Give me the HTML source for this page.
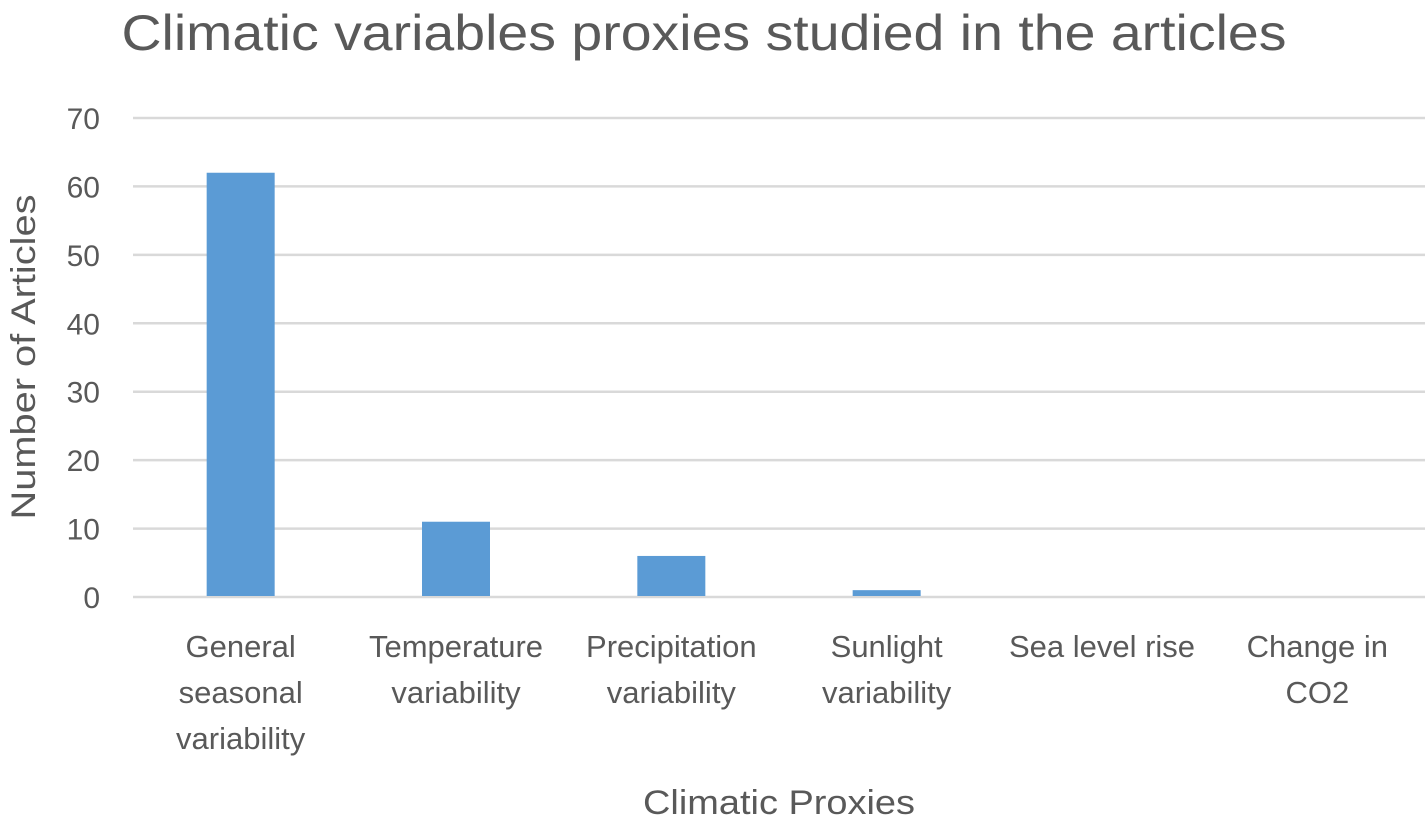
<!DOCTYPE html>
<html><head><meta charset="utf-8"><style>
body{margin:0;background:#fff;}
svg text{font-family:"Liberation Sans",sans-serif;fill:#595959;}
</style></head><body>
<svg width="1425" height="819">
<text x="704" y="50" text-anchor="middle" font-size="50" textLength="1165" lengthAdjust="spacingAndGlyphs">Climatic variables proxies studied in the articles</text>
<g id="grid"></g><g id="bars"></g><g id="labels"></g>
<text x="779" y="814" text-anchor="middle" font-size="34" textLength="272" lengthAdjust="spacingAndGlyphs">Climatic Proxies</text>
<text transform="translate(35,357) rotate(-90)" text-anchor="middle" font-size="34" textLength="325" lengthAdjust="spacingAndGlyphs">Number of Articles</text>
</svg>
<script>
const categories=[["General","seasonal","variability"],["Temperature","variability"],["Precipitation","variability"],["Sunlight","variability"],["Sea level rise"],["Change in","CO2"]];
const values=[62,11,6,1,0,0];
const ticks=[0,10,20,30,40,50,60,70];
const NS="http://www.w3.org/2000/svg";
const x0=133,x1=1425,yTop=118,yBot=597,yMax=70;
const y=v=>yBot-(yBot-yTop)*v/yMax;
const bw=(x1-x0)/categories.length;
const xc=i=>x0+bw*(i+0.5);
function mk(t,a,p){const e=document.createElementNS(NS,t);for(const k in a)e.setAttribute(k,a[k]);p.appendChild(e);return e;}
const grid=document.getElementById('grid'),bars=document.getElementById('bars'),labels=document.getElementById('labels');
ticks.forEach(t=>{
 const l=mk('line',{x1:x0,x2:x1,y1:y(t),y2:y(t),stroke:'#d9d9d9','stroke-width':2.5},grid);
 
 
 const tx=mk('text',{x:100,y:y(t)+11,'text-anchor':'end','font-size':30},grid);
 tx.textContent=t;
 
 
});
values.forEach((v,i)=>{
 if(v>0){
 const r=mk('rect',{x:xc(i)-34,y:y(v),width:68,height:yBot-y(v)-1,fill:'#5b9bd5'},bars);
 
 
 }
 categories[i].forEach((s,j)=>{
  const tx=mk('text',{x:xc(i),y:657+j*46,'text-anchor':'middle','font-size':31},labels);
  tx.textContent=s;
  
  
 });
});
</script>
</body></html>
